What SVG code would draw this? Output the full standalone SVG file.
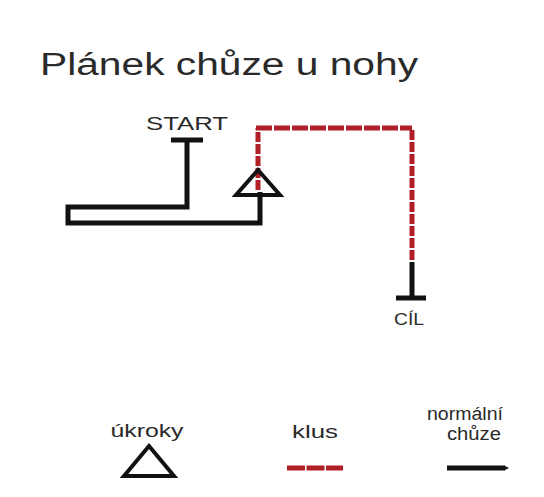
<svg xmlns="http://www.w3.org/2000/svg" width="544" height="497" viewBox="0 0 544 497">
<style>
text{font-family:"Liberation Sans",Arial,sans-serif;fill:#2a2a2a}
.blk{fill:none;stroke:#111;stroke-width:5;stroke-linecap:butt;stroke-linejoin:miter}
.red{fill:none;stroke:#b01e28;stroke-width:5}
.rh{stroke-dasharray:16 2}
.rv{stroke-dasharray:10 2}
.tri{fill:none;stroke:#111;stroke-width:4;stroke-linejoin:miter}
</style>
<rect width="544" height="497" fill="#fff"/>
<text id="title" x="40" y="75" font-size="31" textLength="378" lengthAdjust="spacingAndGlyphs">Plánek chůze u nohy</text>
<g id="connectors">
<path class="blk" d="M171 140 H203 M187 140 V207 H68 V223 H260 V192"/>
<path class="red rv" d="M258 190 V128"/>
<path class="red rh" d="M256 128 H412"/>
<path class="red rv" d="M412 130 V262"/>
<path class="blk" d="M412 262 V298 M396 298 H426"/>
</g>
<g id="start"><text x="187" y="130" font-size="19" text-anchor="middle" textLength="82" lengthAdjust="spacingAndGlyphs">START</text></g>
<g id="sidestep"><path class="tri" d="M258 170 L280 195 H236 Z"/></g>
<g id="cil"><text x="409" y="325" font-size="17" text-anchor="middle" textLength="30" lengthAdjust="spacingAndGlyphs">CÍL</text></g>
<g id="legend-ukroky">
<text x="147" y="437" font-size="18" text-anchor="middle" textLength="73" lengthAdjust="spacingAndGlyphs">úkroky</text>
<path class="tri" d="M149 446 L174 476 H124 Z"/>
</g>
<g id="legend-klus">
<text x="315" y="438" font-size="18" text-anchor="middle" textLength="46" lengthAdjust="spacingAndGlyphs">klus</text>
<path class="red" stroke-dasharray="18 1.5" d="M287 468 H343"/>
</g>
<g id="legend-normal">
<text x="465" y="420" font-size="18" text-anchor="middle" textLength="76" lengthAdjust="spacingAndGlyphs">normální</text>
<text x="474" y="440" font-size="18" text-anchor="middle" textLength="54" lengthAdjust="spacingAndGlyphs">chůze</text>
<path class="blk" d="M447 468 H505"/>
<path fill="#111" d="M504 465.5 L509 468 L504 470.5 Z"/>
</g>
</svg>
